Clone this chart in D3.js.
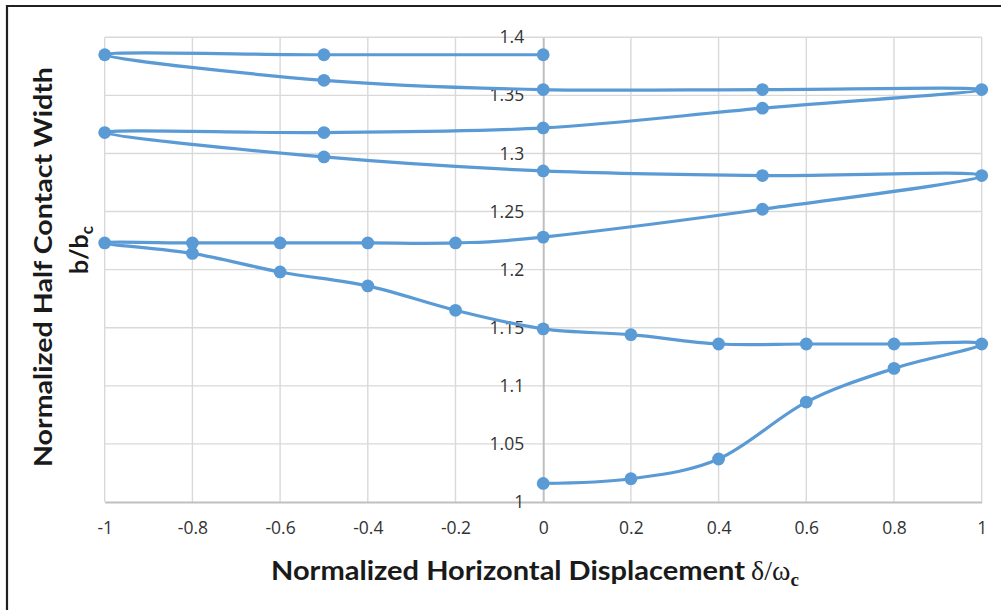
<!DOCTYPE html>
<html>
<head>
<meta charset="utf-8">
<script src="https://cdn.jsdelivr.net/npm/d3@7"></script>
<style>
  html, body { margin: 0; padding: 0; background: #fff; }
  svg { display: block; }
</style>
</head>
<body>
<svg id="chart" width="1001" height="610"></svg>
<script>
// Path of the contact-width trace, in the order the points were recorded
const displacement = [0, 0.2, 0.4, 0.6, 0.8, 1, 0.8, 0.6, 0.4, 0.2, 0, -0.2, -0.4, -0.6, -0.8, -1,
  -0.8, -0.6, -0.4, -0.2, 0, 0.5, 1, 0.5, 0, -0.5, -1, -0.5, 0, 0.5, 1, 0.5, 0, -0.5, -1, -0.5, 0];
const halfWidth = [1.016, 1.020, 1.037, 1.086, 1.115, 1.136, 1.136, 1.136, 1.136, 1.144, 1.149, 1.165, 1.186, 1.198, 1.214, 1.223,
  1.223, 1.223, 1.223, 1.223, 1.228, 1.252, 1.281, 1.281, 1.285, 1.297, 1.318, 1.318, 1.322, 1.339, 1.355, 1.355, 1.355, 1.363, 1.385, 1.385, 1.385];

const xTicks = [-1, -0.8, -0.6, -0.4, -0.2, 0, 0.2, 0.4, 0.6, 0.8, 1];
const yTicks = [1, 1.05, 1.1, 1.15, 1.2, 1.25, 1.3, 1.35, 1.4];

const points = displacement.map((d, i) => ({ x: d, y: halfWidth[i] }));

const svg = d3.select("#chart");
const plot = { left: 104.7, right: 981.7, top: 37.3, bottom: 502 };

const x = d3.scaleLinear().domain([-1, 1]).range([plot.left, plot.right]);
const y = d3.scaleLinear().domain([1, 1.4]).range([plot.bottom, plot.top]);

// outer frame (left and top edges)
svg.append("line").attr("x1", 7).attr("x2", 1001).attr("y1", 6).attr("y2", 6)
  .attr("stroke", "#231f20").attr("stroke-width", 2.2);
svg.append("line").attr("x1", 7).attr("x2", 7).attr("y1", 5).attr("y2", 610)
  .attr("stroke", "#231f20").attr("stroke-width", 2.2);

// gridlines
const grid = svg.append("g");
grid.selectAll("line.v").data(xTicks.filter(d => d !== 0)).join("line")
  .attr("x1", d => x(d)).attr("x2", d => x(d))
  .attr("y1", plot.top).attr("y2", plot.bottom)
  .attr("stroke", "#d9d9d9").attr("stroke-width", 1.4);
grid.selectAll("line.h").data(yTicks.filter(d => d !== 1)).join("line")
  .attr("x1", plot.left).attr("x2", plot.right)
  .attr("y1", d => y(d)).attr("y2", d => y(d))
  .attr("stroke", "#d9d9d9").attr("stroke-width", 1.4);

const plain = d => String(d);

// x axis along y = 1
const xAxis = svg.append("g").attr("transform", `translate(0,${y(1)})`)
  .call(d3.axisBottom(x).tickValues(xTicks).tickSize(0).tickPadding(20).tickFormat(plain));
xAxis.select(".domain").attr("stroke", "#bfbfbf").attr("stroke-width", 2);

// y axis crossing at x = 0
const yAxis = svg.append("g").attr("transform", `translate(${x(0)},0)`)
  .call(d3.axisLeft(y).tickValues(yTicks).tickSize(0).tickPadding(19).tickFormat(plain));
yAxis.select(".domain").attr("stroke", "#bfbfbf").attr("stroke-width", 2);

svg.selectAll(".tick text")
  .attr("font-family", "'Open Sans', Lato, sans-serif")
  .attr("font-size", 17.5)
  .attr("fill", "#333333");

// smoothed trace and markers
const line = d3.line().x(d => x(d.x)).y(d => y(d.y)).curve(d3.curveCardinal.tension(0));
svg.append("path").datum(points)
  .attr("d", line).attr("fill", "none")
  .attr("stroke", "#5b9bd5").attr("stroke-width", 3.2);
svg.append("g").selectAll("circle").data(points).join("circle")
  .attr("cx", d => x(d.x)).attr("cy", d => y(d.y)).attr("r", 6.4)
  .attr("fill", "#5b9bd5");

// axis titles
const titleFont = "Lato, 'Open Sans', sans-serif";
svg.append("text").attr("x", 271).attr("y", 580)
  .attr("font-family", titleFont).attr("font-weight", 700).attr("font-size", 26)
  .attr("fill", "#1a1a1a").attr("textLength", 474).attr("lengthAdjust", "spacingAndGlyphs")
  .text("Normalized Horizontal Displacement");
const greek = svg.append("text").attr("x", 751).attr("y", 580)
  .attr("font-family", "'Liberation Serif', 'DejaVu Serif', serif").attr("font-size", 28)
  .attr("fill", "#1a1a1a");
greek.append("tspan").text("δ/ω");
greek.append("tspan").attr("font-size", 19).attr("font-weight", 700).attr("dy", 6).text("c");

svg.append("text").attr("transform", "translate(52,267) rotate(-90)")
  .attr("text-anchor", "middle")
  .attr("font-family", titleFont).attr("font-weight", 700).attr("font-size", 25)
  .attr("fill", "#1a1a1a").attr("textLength", 400).attr("lengthAdjust", "spacingAndGlyphs")
  .text("Normalized Half Contact Width");
const yt2 = svg.append("text").attr("transform", "translate(88,250) rotate(-90)")
  .attr("text-anchor", "middle")
  .attr("font-family", titleFont).attr("font-weight", 700).attr("font-size", 25)
  .attr("fill", "#1a1a1a");
yt2.append("tspan").text("b/b");
yt2.append("tspan").attr("font-size", 17).attr("dy", 5).text("c");
</script>
</body>
</html>
